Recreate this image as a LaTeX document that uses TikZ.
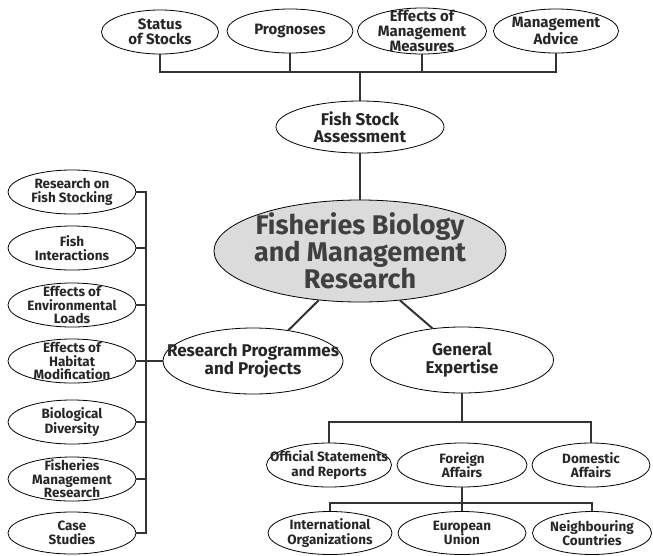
\documentclass[tikz,border=0pt]{standalone}
\usepackage{fontspec}
\setmainfont{Fira Sans}
\usetikzlibrary{shapes.geometric}
\begin{document}
\begin{tikzpicture}[x=1pt,y=-1pt,
  ell/.style={ellipse, draw=black, line width=0.8pt, inner sep=-40pt, align=center,
    text=black!85, font=\bfseries\fontsize{13}{13.5}\selectfont},
  topell/.style={ell, minimum width=#1, minimum height=44pt, font=\bfseries\fontsize{15}{15}\selectfont},
  leftell/.style={ell, minimum width=128pt, minimum height=44pt, font=\bfseries\fontsize{13.5}{13.5}\selectfont},
  botell/.style={ell, minimum width=#1, minimum height=44pt, font=\bfseries\fontsize{13.5}{14.5}\selectfont},
  midell/.style={ell, minimum width=#1, minimum height=66pt, font=\bfseries\fontsize{17}{17.5}\selectfont},
  conn/.style={draw=black!80, line width=2pt},
]
\useasboundingbox (0,0) rectangle (653,555);
% top row
\node[topell=117pt] (status) at (160,32) {Status\\of Stocks};
\node[topell=126pt] (prog) at (290,31) {Prognoses};
\node[topell=129pt, minimum height=46pt] (eff) at (422,31) {Effects of\\Management\\Measures};
\node[topell=125pt] (adv) at (556,31) {Management\\Advice};
\coordinate (topbar) at (360,72);
\node[ell, minimum width=168pt, minimum height=52pt, font=\bfseries\fontsize{17}{17.5}\selectfont] (fish) at (360,127) {Fish Stock\\Assessment};
% main
\node[ell, fill=black!14, minimum width=292pt, minimum height=102pt, text=black!75,
  font=\bfseries\fontsize{27}{27}\selectfont] (main) at (360,251) {Fisheries Biology\\and Management\\Research};
\node[midell=180pt] (rp) at (253,361) {Research Programmes\\and Projects};
\node[midell=183pt] (ge) at (462,360) {General\\Expertise};
% left column
\node[leftell] (stock) at (72,192) {Research on\\Fish Stocking};
\node[leftell] (inter) at (72,248) {Fish\\Interactions};
\node[leftell] (env) at (72,305) {Effects of\\Environmental\\Loads};
\node[leftell] (hab) at (72,361) {Effects of\\Habitat\\Modification};
\node[leftell] (bio) at (72,422) {Biological\\Diversity};
\node[leftell] (fmr) at (72,479) {Fisheries\\Management\\Research};
\node[leftell, minimum height=42pt] (case) at (72,533) {Case\\Studies};
\coordinate (lbar) at (146,0);
% bottom
\coordinate (gbar) at (462,422);
\node[botell=125pt] (off) at (329,465) {Official Statements\\and Reports};
\node[botell=130pt] (fa) at (462,465) {Foreign\\Affairs};
\node[botell=118pt] (dom) at (591,465) {Domestic\\Affairs};
\coordinate (fbar) at (462,503);
\node[botell=124pt, minimum height=43pt] (io) at (330,533) {International\\Organizations};
\node[botell=128pt, minimum height=43pt] (eu) at (462,533) {European\\Union};
\node[botell=119pt, minimum height=43pt] (nc) at (592,533) {Neighbouring\\Countries};
% connectors
\draw[conn] (status.south) |- (topbar) -| (adv.south);
\draw[conn] (prog.south) -- (prog.south |- topbar);
\draw[conn] (eff.south) -- (eff.south |- topbar);
\draw[conn] (topbar) -- (fish.north);
\draw[conn] (fish.south) -- (main.north);
\draw[conn] (main.230) -- (rp.41);
\draw[conn] (main.309) -- (ge.133);
\draw[conn] (stock.east) -- (stock.east -| lbar) -- (case.east -| lbar) -- (case.east);
\foreach \n in {inter,env,bio,fmr}{\draw[conn] (\n.east) -- (\n.east -| lbar);}
\draw[conn] (hab.east) -- (rp.west);
\draw[conn] (ge.south) -- (gbar);
\draw[conn] (off.north) |- (gbar) -| (dom.north);
\draw[conn] (fa.south) -- (eu.north);
\draw[conn] (io.north) |- (fbar) -| (nc.north);
\end{tikzpicture}
\end{document}
